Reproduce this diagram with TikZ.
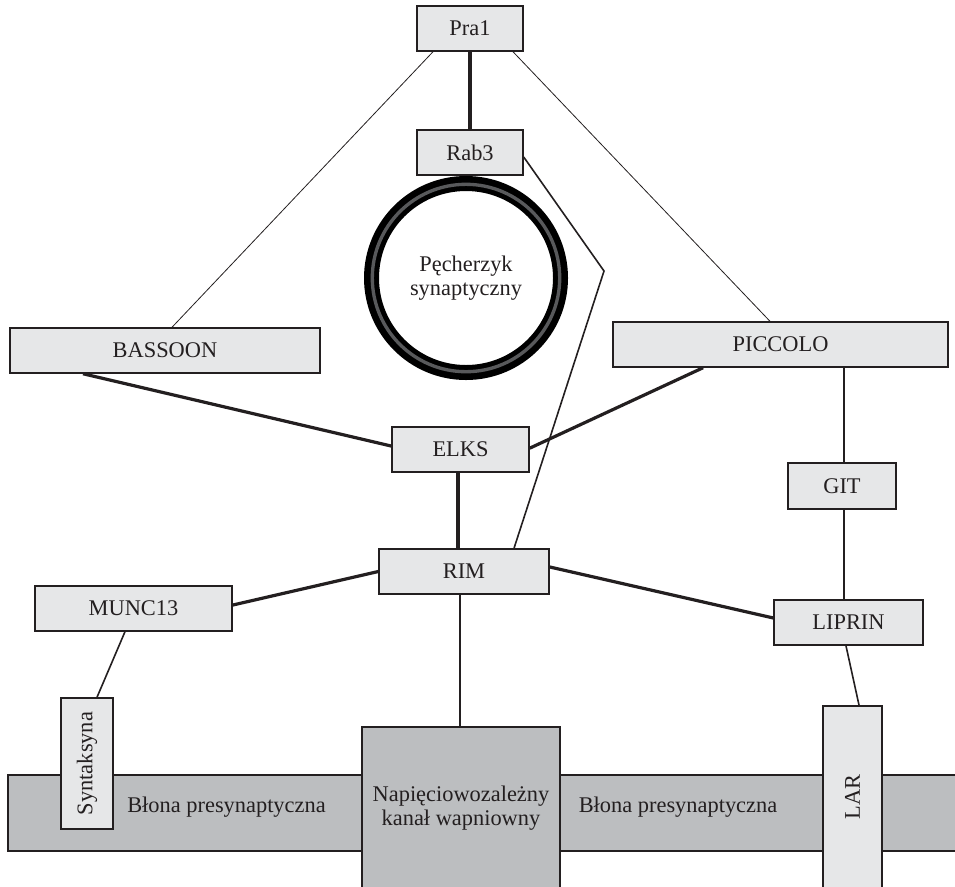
\documentclass[tikz,border=0pt]{standalone}
\usepackage{fontspec}
\setmainfont{Liberation Serif}
\usepackage{tikz}
\usetikzlibrary{positioning}
\definecolor{SynInk}{HTML}{231F20}
\definecolor{SynBox}{HTML}{E6E7E8}
\definecolor{SynMemb}{HTML}{BCBEC0}
\definecolor{SynRing}{HTML}{58595B}

\begin{document}
\begin{tikzpicture}[x=0.75pt,y=-0.75pt,
  font=\fontsize{16.8}{18}\selectfont,
  prot/.style={draw=SynInk,line width=1.1pt,fill=SynBox,text=SynInk,inner sep=0pt,minimum height=33.75pt},
  memb/.style={draw=SynInk,line width=1.1pt,fill=SynMemb,text=SynInk,inner sep=0pt,align=center},
  weak/.style={SynInk,line width=0.6pt},
  mid/.style={SynInk,line width=1.2pt},
  strong/.style={SynInk,line width=2.4pt}]
\clip (0,0) rectangle (955,886);
\fill[SynMemb,draw=SynInk,line width=1.1pt] (8,775) rectangle (965,851);
\node[text=SynInk] (blonaL) at (226.5,807) {Błona presynaptyczna};
\node[text=SynInk] (blonaR) at (678,807) {Błona presynaptyczna};
\node[memb,minimum width=148.5pt,minimum height=121.5pt] (kanal) at (461,808) {Napięciowozależny\\kanał wapniowny};
\node[prot,rotate=90,minimum width=98.25pt,minimum height=39pt] (synt) at (87,763.5) {Syntaksyna};
\node[prot,rotate=90,minimum width=136.5pt,minimum height=44.25pt] (lar) at (852.5,797) {LAR};

\node[prot,minimum width=79.5pt] (pra) at (470,28.5) {Pra1};
\node[prot,minimum width=79.5pt] (rab) at (470,152.5) {Rab3};
\node[prot,minimum width=232.5pt] (bass) at (165,350.5) {BASSOON};
\node[prot,minimum width=251.25pt] (picc) at (780.5,344.5) {PICCOLO};
\node[prot,minimum width=102.75pt] (elks) at (460.5,449.5) {ELKS};
\node[prot,minimum width=81pt,minimum height=34.5pt] (git) at (842,486) {GIT};
\node[prot,minimum width=111.75pt] (lipr) at (848.5,622.5) {LIPRIN};
\node[prot,minimum width=127.5pt] (rim) at (464,571.5) {RIM};
\node[prot,minimum width=147.75pt] (munc) at (133.5,608.5) {MUNC13};

\node[circle,draw=black,line width=11.25pt,minimum size=141.75pt,inner sep=0pt,
  text=SynInk,align=center] (ves) at (466,278) {Pęcherzyk\\synaptyczny};
\draw[SynRing,line width=2.5pt] (ves.center) circle[radius=93.7];

\coordinate (kink) at (604,271);
\draw[strong] (pra.south) -- (rab.north);
\draw[weak] ([xshift=-27.75pt]pra.south) -- ([xshift=5.25pt]bass.north);
\draw[weak] ([xshift=32.25pt]pra.south) -- ([xshift=-7.9pt]picc.north);
\draw[mid] ([yshift=-3.4pt]rab.east) -- (kink) -- ([xshift=37.5pt]rim.north);
\draw[strong] ([xshift=-61.5pt]bass.south) -- ([yshift=2.6pt]elks.west);
\draw[strong] ([xshift=-58.1pt]picc.south) -- ([yshift=1pt]elks.east);
\draw[strong] ([xshift=-1.9pt]elks.south) -- ([xshift=-1.9pt]elks.south |- rim.north);
\draw[mid] ([xshift=1.5pt]git.north) -- ([xshift=1.5pt]git.north |- picc.south);
\draw[mid] ([xshift=1.5pt]git.south) -- ([xshift=1.5pt]git.south |- lipr.north);
\draw[strong] ([yshift=3.4pt]rim.east) -- ([yshift=3.4pt]lipr.west);
\draw[strong] (rim.west) -- ([yshift=2.6pt]munc.east);
\draw[mid] ([xshift=-3pt]rim.south) -- ([xshift=-3pt]rim.south |- kanal.north);
\draw[mid] ([xshift=-6.4pt]munc.south) -- ([xshift=7.5pt]synt.east);
\draw[mid] ([xshift=-1.9pt]lipr.south) -- ([xshift=4.9pt]lar.east);
\end{tikzpicture}
\end{document}
